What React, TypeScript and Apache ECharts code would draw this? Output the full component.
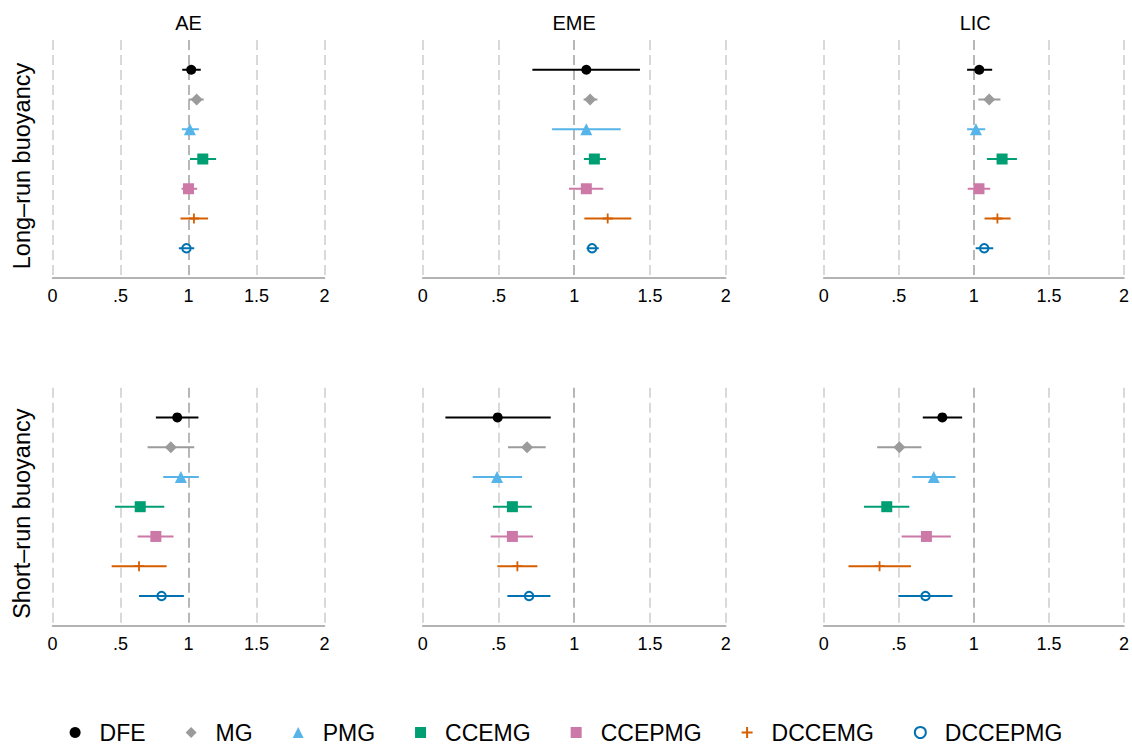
import React, { useEffect, useRef } from 'react';
import * as echarts from 'echarts';

// ---------- data ----------
const panelNames = ['AE', 'EME', 'LIC'];
const rowTitles = ['Long–run buoyancy', 'Short–run buoyancy'];
const estimators = ['DFE', 'MG', 'PMG', 'CCEMG', 'CCEPMG', 'DCCEMG', 'DCCEPMG'];
const estimatorColors = ['#000000', '#9b9b9b', '#56b4e9', '#009e73', '#cc79a7', '#d55e00', '#0072b2'];
const tickLabels = ['0', '.5', '1', '1.5', '2'];

// Long-run buoyancy
const lrAEPoint = [1.02, 1.06, 1.01, 1.105, 1.0, 1.04, 0.985];
const lrAELow = [0.954, 1.0, 0.951, 1.01, 0.949, 0.941, 0.929];
const lrAEHigh = [1.09, 1.112, 1.076, 1.203, 1.064, 1.144, 1.042];

const lrEMEPoint = [1.08, 1.105, 1.08, 1.133, 1.08, 1.221, 1.118];
const lrEMELow = [0.724, 1.062, 0.854, 1.064, 0.966, 1.067, 1.082];
const lrEMEHigh = [1.434, 1.153, 1.307, 1.21, 1.192, 1.377, 1.162];

const lrLICPoint = [1.036, 1.102, 1.014, 1.188, 1.034, 1.157, 1.069];
const lrLICLow = [0.955, 1.03, 0.955, 1.087, 0.959, 1.071, 1.012];
const lrLICHigh = [1.122, 1.177, 1.076, 1.287, 1.109, 1.245, 1.129];

// Short-run buoyancy
const srAEPoint = [0.917, 0.87, 0.944, 0.645, 0.76, 0.636, 0.802];
const srAELow = [0.76, 0.699, 0.814, 0.46, 0.626, 0.435, 0.636];
const srAEHigh = [1.073, 1.042, 1.076, 0.822, 0.89, 0.839, 0.966];

const srEMEPoint = [0.495, 0.689, 0.491, 0.592, 0.592, 0.625, 0.702];
const srEMELow = [0.15, 0.563, 0.33, 0.464, 0.449, 0.493, 0.559];
const srEMEHigh = [0.845, 0.812, 0.656, 0.72, 0.728, 0.757, 0.843];

const srLICPoint = [0.79, 0.504, 0.733, 0.42, 0.684, 0.372, 0.678];
const srLICLow = [0.66, 0.356, 0.59, 0.268, 0.519, 0.165, 0.497];
const srLICHigh = [0.922, 0.651, 0.878, 0.57, 0.847, 0.581, 0.858];

const panelData = [
  { point: lrAEPoint, low: lrAELow, high: lrAEHigh },
  { point: lrEMEPoint, low: lrEMELow, high: lrEMEHigh },
  { point: lrLICPoint, low: lrLICLow, high: lrLICHigh },
  { point: srAEPoint, low: srAELow, high: srAEHigh },
  { point: srEMEPoint, low: srEMELow, high: srEMEHigh },
  { point: srLICPoint, low: srLICLow, high: srLICHigh },
];

// ---------- styling ----------
const FONT = '"Liberation Sans", Arial, Helvetica, sans-serif';
const plusPath = 'path://M4.1,0h1.8v4.1h4.1v1.8h-4.1v4.1h-1.8v-4.1h-4.1v-1.8h4.1z';
const symbols = ['circle', 'diamond', 'triangle', 'rect', 'rect', plusPath, 'emptyCircle'];
const symbolSizes = [10, 12, 12, 11, 11, 10, 8.5];
const gridLefts = [52.5, 422.7, 823.7];
const gridWidths = [272, 303, 303];
const gridTops = [40, 387.7];
const gridHeight = 238;
const splitColors = ['#cdcdcd', '#cdcdcd', '#a0a0a0', '#cdcdcd', '#cdcdcd'];

export default function App() {
  const ref = useRef<HTMLDivElement>(null);

  useEffect(() => {
    const chart = echarts.init(ref.current as HTMLDivElement, null, { renderer: 'svg' });

    const grids: any[] = [];
    const xAxes: any[] = [];
    const yAxes: any[] = [];
    const series: any[] = [];
    const nSlots = estimators.length + 1;

    for (let p = 0; p < 6; p++) {
      const row = Math.floor(p / 3);
      const col = p % 3;
      grids.push({
        left: gridLefts[col],
        top: gridTops[row],
        width: gridWidths[col],
        height: gridHeight,
        containLabel: false,
      });
      xAxes.push({
        gridIndex: p,
        type: 'value',
        min: 0,
        max: 2,
        interval: 0.5,
        axisLine: { show: true, onZero: false, lineStyle: { color: '#9a9a9a', width: 1.5 } },
        axisTick: { show: false },
        axisLabel: {
          fontSize: 18,
          color: '#000',
          fontFamily: FONT,
          margin: 9,
          formatter: (v: number) => tickLabels[Math.round(v * 2)],
        },
        splitLine: {
          show: true,
          lineStyle: { color: splitColors, type: [10, 5], width: 1.5 },
        },
      });
      yAxes.push({
        gridIndex: p,
        type: 'value',
        min: 0,
        max: nSlots,
        show: false,
      });

      const d = panelData[p];
      estimators.forEach((est, i) => {
        const y = estimators.length - i;
        const isEmpty = symbols[i] === 'emptyCircle';
        series.push({
          name: est + ' CI',
          type: 'line',
          xAxisIndex: p,
          yAxisIndex: p,
          data: [
            [d.low[i], y],
            [d.high[i], y],
          ],
          showSymbol: false,
          symbol: 'none',
          silent: true,
          z: isEmpty ? 5 : 2,
          lineStyle: { color: estimatorColors[i], width: 2 },
        });
        series.push({
          name: est,
          type: 'scatter',
          xAxisIndex: p,
          yAxisIndex: p,
          data: [[d.point[i], y]],
          symbol: symbols[i],
          symbolSize: symbolSizes[i],
          z: isEmpty ? 4 : 3,
          itemStyle: isEmpty
            ? { color: estimatorColors[i], borderWidth: 2, opacity: 1 }
            : { color: estimatorColors[i], opacity: 1 },
        });
      });
    }

    const graphics: any[] = [];
    panelNames.forEach((name, c) => {
      graphics.push({
        type: 'text',
        x: gridLefts[c] + gridWidths[c] / 2,
        y: 23,
        style: { text: name, font: `20px ${FONT}`, fill: '#000', align: 'center', verticalAlign: 'middle' },
      });
    });
    rowTitles.forEach((t, r) => {
      graphics.push({
        type: 'text',
        x: 22,
        y: gridTops[r] + gridHeight / 2 + 7,
        rotation: Math.PI / 2,
        style: { text: t, font: `23.5px ${FONT}`, fill: '#000', align: 'center', verticalAlign: 'middle' },
      });
    });

    chart.setOption({
      animation: false,
      backgroundColor: '#ffffff',
      textStyle: { fontFamily: FONT },
      grid: grids,
      xAxis: xAxes,
      yAxis: yAxes,
      series,
      graphic: graphics,
      legend: {
        data: estimators,
        left: 'center',
        top: 716,
        itemWidth: 11,
        itemHeight: 11,
        itemGap: 40,
        textStyle: { fontSize: 23, color: '#000', fontFamily: FONT, padding: [0, 0, 0, 14] },
      },
    });

    return () => chart.dispose();
  }, []);

  return (
    <div
      ref={ref}
      style={{ position: 'fixed', left: 0, top: 0, width: 1132, height: 744, background: '#fff' }}
    />
  );
}
